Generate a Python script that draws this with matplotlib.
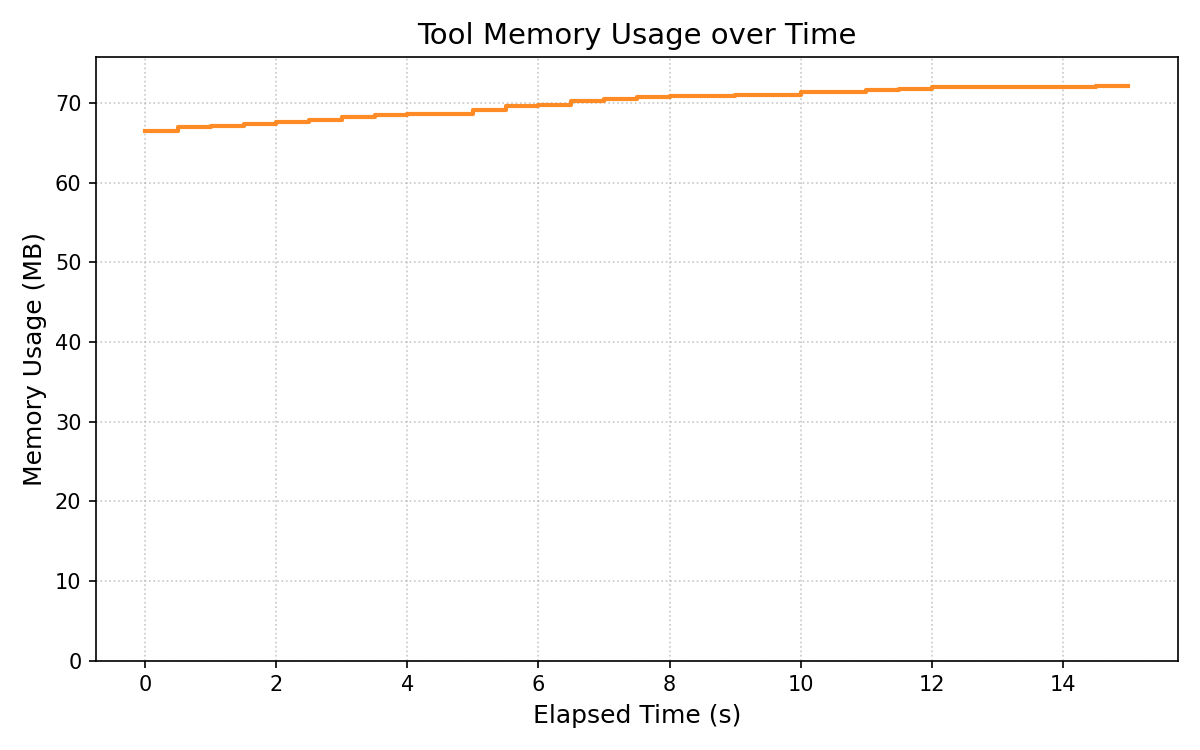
import matplotlib
matplotlib.use("Agg")
import matplotlib.pyplot as plt

time_s = [0.0, 0.5, 1.0, 1.5, 2.0, 2.5, 3.0, 3.5, 4.0, 4.5, 5.0, 5.5, 6.0, 6.5, 7.0, 7.5,
          8.0, 8.5, 9.0, 9.5, 10.0, 10.5, 11.0, 11.5, 12.0, 12.5, 13.0, 13.5, 14.0, 14.5, 15.0]
memory_mb = [66.5, 67.0, 67.2, 67.4, 67.6, 67.9, 68.3, 68.5, 68.6, 68.6, 69.1, 69.6, 69.8, 70.3,
             70.5, 70.8, 70.9, 70.9, 71.05, 71.05, 71.4, 71.4, 71.7, 71.8, 72.05, 72.05, 72.05,
             72.05, 72.05, 72.2, 72.2]

fig, ax = plt.subplots(figsize=(8, 5), dpi=150)
ax.step(time_s, memory_mb, where="post", color="tab:orange", alpha=0.9, linewidth=2)
ax.set_ylim(0, max(memory_mb) * 1.05)
ax.set_title("Tool Memory Usage over Time", fontsize=14)
ax.set_xlabel("Elapsed Time (s)", fontsize=12)
ax.set_ylabel("Memory Usage (MB)", fontsize=12)
ax.grid(True, linestyle=":", color="#b0b0b0", alpha=0.7)
fig.tight_layout()
fig.savefig("out.png")
